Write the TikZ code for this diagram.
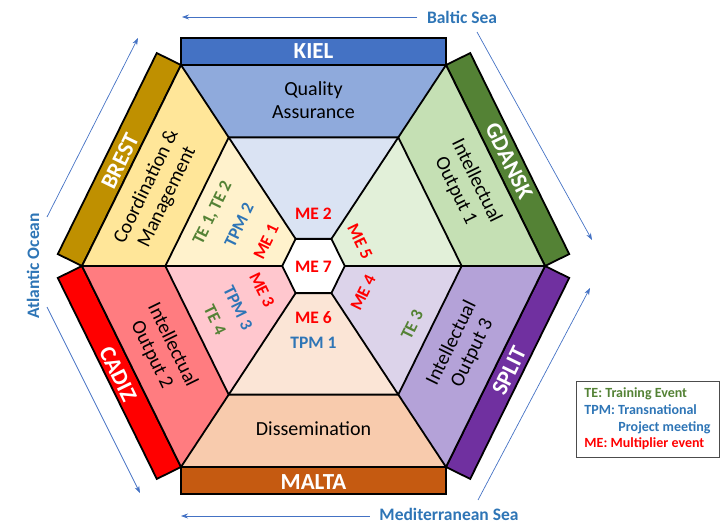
\documentclass[tikz,border=0pt]{standalone}
\usepackage{fontspec}
\setmainfont{Carlito}
\usetikzlibrary{calc,arrows.meta}

% partner colours: band / outer section / inner section
\definecolor{kielband}{HTML}{4472C4}
\definecolor{kielout}{HTML}{8FAADC}
\definecolor{kielin}{HTML}{DAE3F3}
\definecolor{gdaband}{HTML}{548235}
\definecolor{gdaout}{HTML}{C5E0B4}
\definecolor{gdain}{HTML}{E2F0D9}
\definecolor{splband}{HTML}{7030A0}
\definecolor{splout}{HTML}{B4A2D8}
\definecolor{splin}{HTML}{DCD3EA}
\definecolor{malband}{HTML}{C55A11}
\definecolor{malout}{HTML}{F8CBAD}
\definecolor{malin}{HTML}{FBE5D6}
\definecolor{cadband}{HTML}{FF0000}
\definecolor{cadout}{HTML}{FF7C80}
\definecolor{cadin}{HTML}{FFC7CE}
\definecolor{breband}{HTML}{BF9000}
\definecolor{breout}{HTML}{FFE699}
\definecolor{brein}{HTML}{FFF2CC}
% event and label colours
\definecolor{tecol}{HTML}{548235}
\definecolor{tpmcol}{HTML}{2E75B6}
\definecolor{mecol}{HTML}{FF0000}
\definecolor{seacol}{HTML}{2E75B6}
\definecolor{arrowcol}{HTML}{4472C4}

\begin{document}
\begin{tikzpicture}[x=1pt,y=-1pt,
  edge/.style={line width=1.8pt, line join=miter},
  bandbox/.style={draw=black, line width=1.8pt, line join=miter},
  bandtext/.style={text=white, font=\fontsize{23}{26}\selectfont\bfseries},
  sectext/.style={font=\fontsize{20}{23}\selectfont, align=center},
  evt/.style={font=\fontsize{17.5}{20}\selectfont\bfseries},
  te/.style={evt, text=tecol},
  tpm/.style={evt, text=tpmcol},
  me/.style={evt, text=mecol},
  sea/.style={text=seacol, font=\fontsize{17.5}{20}\selectfont\bfseries},
  seaarrow/.style={draw=arrowcol, line width=0.7pt, -{Stealth[length=7pt,width=5pt]}},
]
\useasboundingbox (0,0) rectangle (721,524);

% hexagon corners
\coordinate (c) at (313.5,266);
\coordinate (o1) at (181,65);
\coordinate (o2) at (446,65);
\coordinate (o3) at (545,266);
\coordinate (o4) at (446,467);
\coordinate (o5) at (181,467);
\coordinate (o6) at (82,266);
\foreach \k in {1,...,6} {
  \coordinate (m\k) at ($(c)!0.64!(o\k)$);
  \coordinate (i\k) at ($(c)!0.135!(o\k)$);
}

% city bands on the outer edges
\foreach \a/\b/\col in {1/2/kielband,2/3/gdaband,3/4/splband,4/5/malband,5/6/cadband,6/1/breband}
  \draw[bandbox, fill=\col] (o\a) -- (o\b) -- ($(o\b)!27pt!-90:(o\a)$) -- ($(o\a)!27pt!90:(o\b)$) -- cycle;

% outer and inner sections
\foreach \a/\b/\oc/\ic in {1/2/kielout/kielin,2/3/gdaout/gdain,3/4/splout/splin,4/5/malout/malin,5/6/cadout/cadin,6/1/breout/brein} {
  \fill[\oc] (o\a) -- (o\b) -- (m\b) -- (m\a) -- cycle;
  \fill[\ic] (m\a) -- (m\b) -- (i\b) -- (i\a) -- cycle;
}
\fill[white] (i1) -- (i2) -- (i3) -- (i4) -- (i5) -- (i6) -- cycle;

% outlines
\draw[edge] (o1) -- (o2) -- (o3) -- (o4) -- (o5) -- (o6) -- cycle;
\draw[edge] (m1) -- (m2) -- (m3) -- (m4) -- (m5) -- (m6) -- cycle;
\draw[edge] (i1) -- (i2) -- (i3) -- (i4) -- (i5) -- (i6) -- cycle;
\foreach \k in {1,...,6} \draw[edge] (o\k) -- (i\k);

% city names
\node[bandtext] (kiel) at (313.5,51) {KIEL};
\node[bandtext, rotate=64] (brest) at (120,161) {BREST};
\node[bandtext, rotate=-64] (gdansk) at (509,161) {GDANSK};
\node[bandtext, rotate=64] (split) at (509,371) {SPLIT};
\node[bandtext, rotate=-64] (cadiz) at (118,374) {CADIZ};
\node[bandtext] (malta) at (313.5,482) {MALTA};

% work packages
\node[sectext] (qa) at (313.5,100) {Quality\\Assurance};
\node[sectext, rotate=64] (coord) at (157,192) {Coordination \&\\Management};
\node[sectext, rotate=-64] (io1) at (466,186) {Intellectual\\Output 1};
\node[sectext, rotate=64] (io3) at (462,348) {Intellectual\\Output 3};
\node[sectext, rotate=-64] (io2) at (162,350) {Intellectual\\Output 2};
\node[sectext] (dissem) at (313.5,429) {Dissemination};

% events
\node[me] (me2) at (313.5,214) {ME 2};
\node[me] (me7) at (313.5,267) {ME 7};
\node[me] (me6) at (313.5,318) {ME 6};
\node[tpm] (tpm1) at (313.5,343) {TPM 1};
\node[te, rotate=64] (te12) at (213,213) {TE 1, TE 2};
\node[tpm, rotate=64] (tpm2) at (239,225) {TPM 2};
\node[me, rotate=64] (me1) at (266,242) {ME 1};
\node[me, rotate=-64] (me5) at (360,242) {ME 5};
\node[me, rotate=-64] (me3) at (262,290) {ME 3};
\node[tpm, rotate=-64] (tpm3) at (238,308) {TPM 3};
\node[te, rotate=-64] (te4) at (215,320) {TE 4};
\node[me, rotate=64] (me4) at (363,293) {ME 4};
\node[te, rotate=64] (te3) at (412,325) {TE 3};

% seas and coast arrows
\node[sea] (baltic) at (462,17) {Baltic Sea};
\node[sea, inner ysep=1pt] (med) at (449,514) {Mediterranean Sea};
\node[sea, rotate=90] (atlantic) at (33,266) {Atlantic Ocean};
\coordinate (baltEnd) at (182,17);
\coordinate (medEnd) at (181,516);
\coordinate (ne1) at (477,32);  \coordinate (ne2) at (592,240);
\coordinate (se1) at (478,500); \coordinate (se2) at (590,288);
\coordinate (sw1) at (47,307);  \coordinate (sw2) at (140,493);
\coordinate (nw1) at (47,217);  \coordinate (nw2) at (138,38);
\draw[seaarrow, shorten <=6pt] (med.west |- medEnd) -- (medEnd);
\draw[seaarrow, shorten <=6pt] (baltic.west) -- (baltEnd);
\draw[seaarrow] (ne1) -- (ne2);
\draw[seaarrow] (se1) -- (se2);
\draw[seaarrow] (sw1) -- (sw2);
\draw[seaarrow] (nw1) -- (nw2);

% legend
\node[draw=black!70, line width=0.8pt, minimum width=143pt, minimum height=76pt,
      align=left, inner sep=0pt, font=\fontsize{14}{16.7}\selectfont\bfseries]
  (legend) at (647.5,419)
  {\textcolor{tecol}{TE: Training Event}\\
   \textcolor{tpmcol}{TPM: Transnational}\\
   \hspace*{34pt}\textcolor{tpmcol}{Project meeting}\\
   \textcolor{mecol}{ME: Multiplier event}};
\end{tikzpicture}
\end{document}
